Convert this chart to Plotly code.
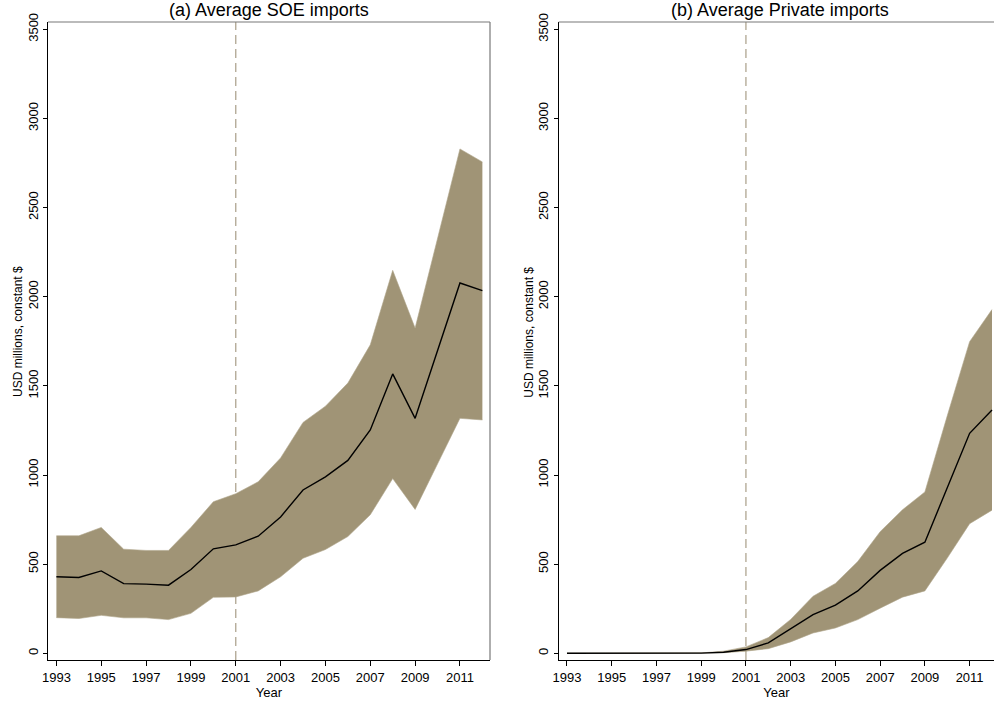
import plotly.graph_objects as go

years = list(range(1993, 2013))

soe_mean = [429, 425, 462, 391, 388, 382, 470, 586, 608, 657, 765, 916, 990, 1082, 1253, 1567, 1318, 1698, 2077, 2034]
soe_upper = [659, 659, 706, 584, 577, 577, 706, 850, 895, 962, 1096, 1295, 1386, 1516, 1730, 2148, 1824, 2325, 2829, 2756]
soe_lower = [200, 195, 213, 199, 199, 189, 224, 314, 316, 350, 429, 533, 582, 655, 777, 980, 807, 1064, 1318, 1309]

priv_mean = [0, 0, 0, 0, 0, 0, 1, 6, 21, 58, 138, 217, 270, 350, 465, 560, 623, 925, 1234, 1365]
priv_upper = [0, 0, 0, 0, 0, 0, 2, 12, 36, 88, 190, 320, 392, 515, 682, 805, 905, 1332, 1748, 1928]
priv_lower = [0, 0, 0, 0, 0, 0, 0, 3, 12, 26, 64, 114, 142, 189, 253, 315, 350, 534, 727, 803]

wto_year = 2001
y_ticks = [0, 500, 1000, 1500, 2000, 2500, 3000, 3500]
x_ticks = list(range(1993, 2012, 2))

titles = ["(a) Average SOE imports", "(b) Average Private imports"]
x_title = "Year"
y_title = "USD millions, constant $"

BAND = "rgb(160,148,118)"
DASH = "rgb(175,165,145)"
FONT = "Liberation Sans, Arial, Helvetica, sans-serif"
W, H = 994, 702

fig = go.Figure()

panels = [
    (soe_mean, soe_upper, soe_lower, "x", "y"),
    (priv_mean, priv_upper, priv_lower, "x2", "y2"),
]
for mean, up, lo, xa, ya in panels:
    fig.add_trace(go.Scatter(x=years, y=lo, mode="lines", line=dict(width=0.6, color="rgb(175,165,138)"),
                             showlegend=False, xaxis=xa, yaxis=ya, hoverinfo="skip"))
    fig.add_trace(go.Scatter(x=years, y=up, mode="lines", line=dict(width=0.6, color="rgb(175,165,138)"),
                             fill="tonexty", fillcolor=BAND, showlegend=False, xaxis=xa, yaxis=ya,
                             hoverinfo="skip"))
    fig.add_trace(go.Scatter(x=years, y=mean, mode="lines", line=dict(width=1.4, color="black"),
                             showlegend=False, xaxis=xa, yaxis=ya))

left_px = (48, 490)
right_px = (558.7, 558.7 + 442)
left_dom = [left_px[0] / W, left_px[1] / W]
right_dom = [right_px[0] / W, 1.0]
y_dom = [(H - 660) / H, (H - 22) / H]

axis_common_x = dict(
    tickmode="array", tickvals=x_ticks, ticks="outside", ticklen=5, tickwidth=1, tickcolor="black",
    showline=True, linecolor="black", linewidth=1.3, showgrid=False, zeroline=False, automargin=False,
    tickfont=dict(family=FONT, size=13, color="black"),
    title=dict(text=x_title, font=dict(family=FONT, size=13, color="black"), standoff=2),
)
axis_common_y = dict(
    tickmode="array", tickvals=y_ticks, ticks="outside", ticklen=4, tickwidth=1, tickcolor="black",
    showline=True, linecolor="black", linewidth=1.3, showgrid=False, zeroline=False, tickangle=-90,
    automargin=False,
    tickfont=dict(family=FONT, size=13, color="black"), range=[-37.6, 3541],
)

fig.update_layout(
    width=W, height=H, margin=dict(l=0, r=0, t=0, b=0),
    paper_bgcolor="white", plot_bgcolor="white",
    font=dict(family=FONT, color="black"),
    xaxis=dict(domain=left_dom, anchor="y", range=[1992.625, 2012.34], **axis_common_x),
    yaxis=dict(domain=y_dom, anchor="x", **axis_common_y),
    xaxis2=dict(domain=right_dom, anchor="y2", range=[1992.63, 2012.09], **axis_common_x),
    yaxis2=dict(domain=y_dom, anchor="x2", **axis_common_y),
)

# WTO accession reference line (behind the bands)
for xr, yr in [("x", "y"), ("x2", "y2")]:
    fig.add_shape(type="line", xref=xr, yref=yr + " domain", x0=wto_year, x1=wto_year, y0=0, y1=1,
                  line=dict(color=DASH, width=1.3, dash="9px,5px"), layer="below")

# plot-region outline (top and right)
OUT = "rgb(120,120,120)"
fig.add_shape(type="line", xref="x domain", yref="y domain", x0=0, x1=1, y0=1, y1=1, line=dict(color=OUT, width=1.2))
fig.add_shape(type="line", xref="x domain", yref="y domain", x0=1, x1=1, y0=0, y1=1, line=dict(color=OUT, width=1.2))
fig.add_shape(type="line", xref="x2 domain", yref="y2 domain", x0=0, x1=1, y0=1, y1=1, line=dict(color=OUT, width=1.2))

for t, (a, b) in zip(titles, [left_px, right_px]):
    fig.add_annotation(text=t, xref="paper", yref="paper", x=(a + b) / 2 / W, y=1 - 10 / H,
                       xanchor="center", yanchor="middle", showarrow=False,
                       font=dict(family=FONT, size=18, color="black"))
    # y-axis titles
    fig.add_annotation(text=y_title, xref="paper", yref="paper", x=(a - 30) / W, y=1 - 332 / H,
                       xanchor="center", yanchor="middle", showarrow=False, textangle=-90,
                       font=dict(family=FONT, size=12, color="black"))

fig.write_html("out.html")
